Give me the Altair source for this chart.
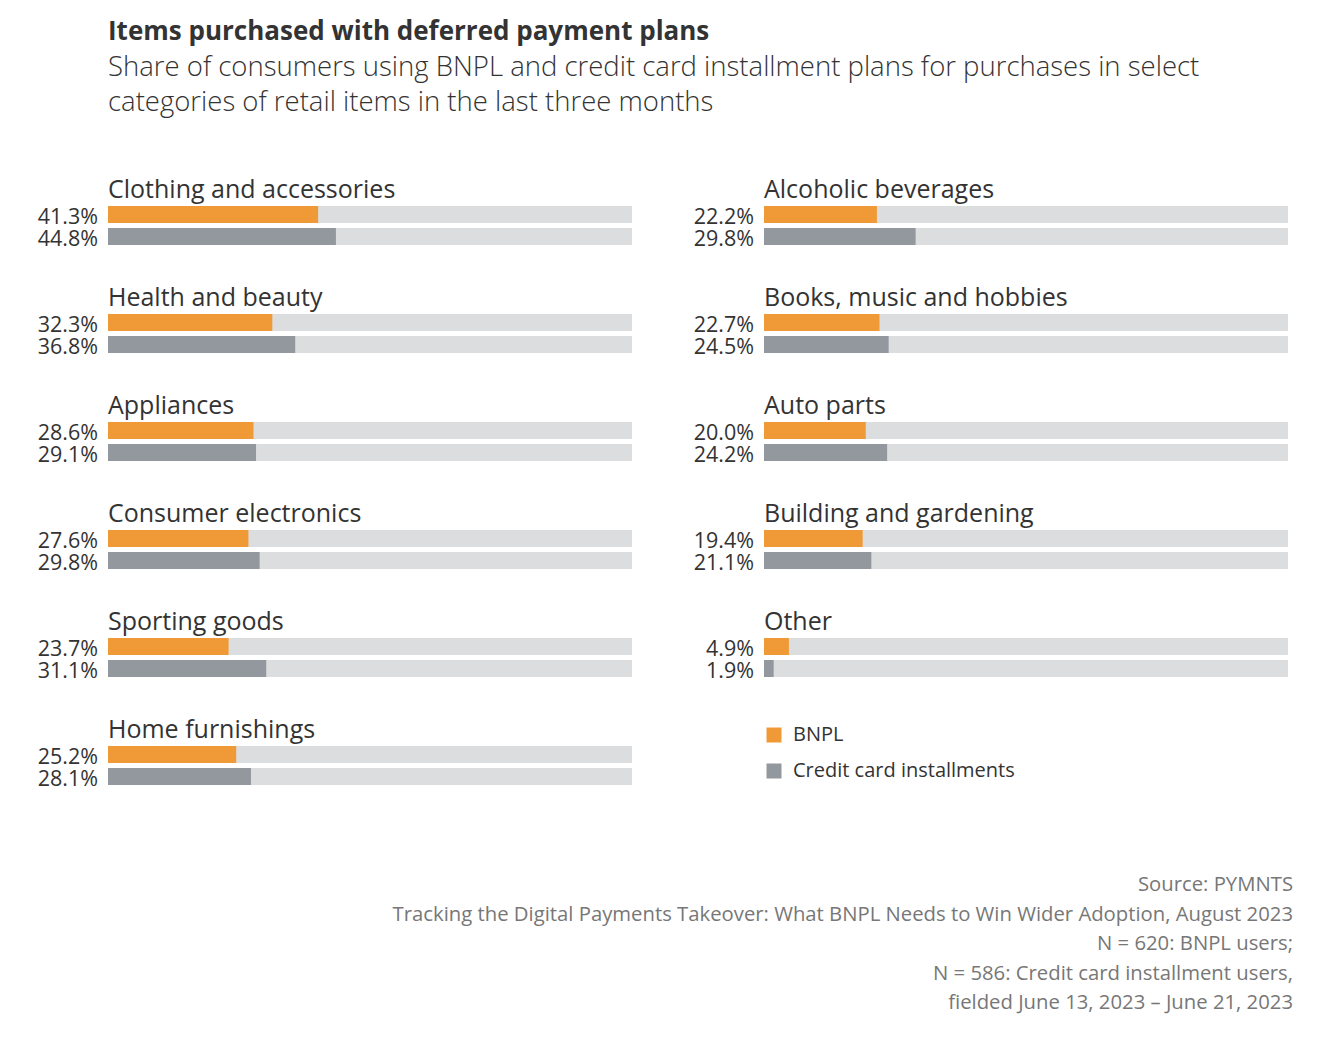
import altair as alt
import pandas as pd

# ---- data ----
series = ["BNPL", "Credit card installments"]
left_cats = ["Clothing and accessories", "Health and beauty", "Appliances",
             "Consumer electronics", "Sporting goods", "Home furnishings"]
left_bnpl = [41.3, 32.3, 28.6, 27.6, 23.7, 25.2]
left_cc = [44.8, 36.8, 29.1, 29.8, 31.1, 28.1]
right_cats = ["Alcoholic beverages", "Books, music and hobbies", "Auto parts",
              "Building and gardening", "Other"]
right_bnpl = [22.2, 22.7, 20.0, 19.4, 4.9]
right_cc = [29.8, 24.5, 24.2, 21.1, 1.9]

footer_lines = [
    "Source: PYMNTS",
    "Tracking the Digital Payments Takeover: What BNPL Needs to Win Wider Adoption, August 2023",
    "N = 620: BNPL users;",
    "N = 586: Credit card installment users,",
    "fielded June 13, 2023 \u2013 June 21, 2023",
]

ORANGE = "#f09a37"
GREY = "#93979e"
BG = "#dcdddf"
TEXT = "#333333"
FONT = "Open Sans"
XMAX = 103
STEP = 108
PI = 0.639
PO = 0.278
W = 524


def long_df(cats, bnpl, cc):
    rows = []
    for c, b, k in zip(cats, bnpl, cc):
        rows.append({"category": c, "series": series[0], "value": b, "label": f"{b:.1f}%"})
        rows.append({"category": c, "series": series[1], "value": k, "label": f"{k:.1f}%"})
    return pd.DataFrame(rows)


def panel(cats, bnpl, cc, legend):
    df = long_df(cats, bnpl, cc)
    cdf = pd.DataFrame({"category": cats})
    n = len(cats)
    h = STEP * (n - PI + 2 * PO)
    yscale = alt.Scale(paddingInner=PI, paddingOuter=PO)
    y = alt.Y("category:N", sort=cats, scale=yscale, axis=None)
    yoff = alt.YOffset("series:N", sort=series, scale=alt.Scale(paddingInner=0.227))

    base = alt.Chart(df)
    bg = base.mark_bar(color=BG).encode(
        x=alt.value(0), x2=alt.value("width"), y=y, yOffset=yoff)
    fg = base.mark_bar().encode(
        x=alt.X("value:Q", scale=alt.Scale(domain=[0, XMAX]), axis=None),
        y=y, yOffset=yoff,
        color=alt.Color("series:N", sort=series,
                        scale=alt.Scale(domain=series, range=[ORANGE, GREY]),
                        legend=legend))
    lbl = base.mark_text(align="right", baseline="middle", dx=-10, dy=3, fontSize=21.5,
                         font=FONT, color=TEXT).encode(
        x=alt.value(0), y=y, yOffset=yoff, text="label:N")
    cat = alt.Chart(cdf).mark_text(align="left", baseline="alphabetic", dy=-8,
                                   fontSize=25, font=FONT, color=TEXT).encode(
        x=alt.value(0),
        y=alt.Y("category:N", sort=cats, scale=yscale, axis=None, bandPosition=0),
        text="category:N")
    return alt.layer(bg, fg, lbl, cat).properties(width=W, height=h)


legend = alt.Legend(orient="none", legendX=0, legendY=549, title=None,
                    symbolType="square", symbolSize=225, symbolStrokeWidth=0,
                    labelFontSize=20, labelFont=FONT, labelColor=TEXT, labelLimit=0,
                    rowPadding=16, labelOffset=9, direction="vertical")

left = panel(left_cats, left_bnpl, left_cc, None)
right = panel(right_cats, right_bnpl, right_cc, legend)

hc = alt.hconcat(left, right, spacing=61).resolve_scale(color="independent").properties(
    title=alt.TitleParams(
        text="Items purchased with deferred payment plans",
        subtitle=["Share of consumers using BNPL and credit card installment plans for purchases in select",
                  "categories of retail items in the last three months"],
        anchor="start", font=FONT, fontSize=26, fontWeight="bold", color=TEXT,
        subtitleFont=FONT, subtitleFontSize=27.5, subtitleFontWeight=300,
        subtitleColor=TEXT, subtitleLineHeight=35, subtitlePadding=9,
        offset=60, frame="group"))

chart = alt.vconcat(hc).properties(
    title=alt.TitleParams(text=footer_lines, orient="bottom", anchor="end",
                          font=FONT, fontSize=20.3, fontWeight="normal",
                          color="#777777", lineHeight=29.5, offset=60, dx=5),
    padding={"left": 29, "top": 10, "right": 40, "bottom": 20},
    background="white",
).configure_view(stroke=None)

chart.save("out.html", embed_options={"renderer": "svg", "actions": False})
